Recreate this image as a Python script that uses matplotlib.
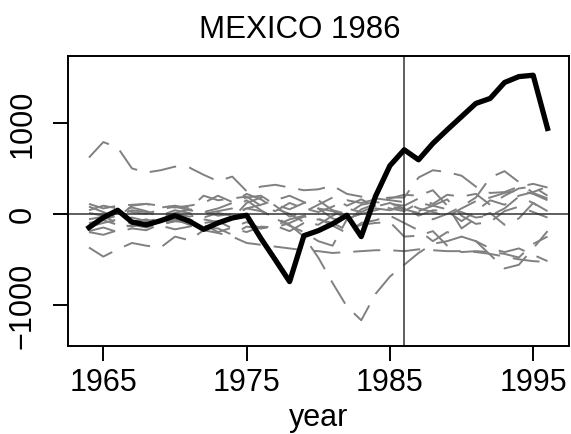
import numpy as np
import matplotlib
matplotlib.use('Agg')
import matplotlib.pyplot as plt

plt.rcParams['font.family'] = ['Liberation Sans', 'DejaVu Sans']

years = list(range(1964, 1997))

# treated unit (Mexico), gap between actual and synthetic
mexico = [-150, -40, 40, -90, -120, -75, -20, -80, -170, -100, -45, -15, -270, -505,
          -745, -240, -185, -110, -15, -250, 195, 530, 705, 595, 775, 925, 1070, 1215,
          1270, 1445, 1510, 1525, 940]

# placebo gaps (other countries)
placebo_1 = [620, 790, 730, 500, 455, 480, 520, 510, 430, 360, 410, 250, 300, 320, 290, 260,
             270, 310, 220, 190, 170, 150, 130, 60, 20, -30, 60, 140, 180, 230, 260, 220, 150]
placebo_2 = [-370, -470, -390, -320, -350, -370, -250, -290, -180, -210, -250, -320, -340, -360,
             -380, -400, -410, -430, -420, -410, -400, -400, -410, -390, -400, -410, -410, -420,
             -440, -470, -500, -520, -530]
placebo_3 = [-120, -60, -20, 40, 20, -30, 10, 50, 30, -20, 0, 60, 30, -40, -120, -250, -480,
             -760, -1020, -1170, -880, -690, -560, -430, -330, -300, -250, -300, -450, -600,
             -560, -380, -190]
placebo_4 = [80, 20, -40, 90, 110, 70, 90, 60, 200, 150, 170, 190, 90, 30, 120, 60, 20, 80, 150,
             120, 160, 180, 180, 400, 480, 460, 420, 300, 230, 240, 300, 330, 290]
placebo_5 = [-200, -230, -180, -120, -150, -100, -60, -120, -150, -160, -230, -140, -160, -130,
             -60, -20, 60, 30, -50, 0, 40, 80, 50, 10, -60, 0, 80, 180, 400, 470, 350, 230, 170]
placebo_6 = [110, 60, 90, 100, 110, 90, 70, 90, 120, 200, 130, 180, 200, 100, 50, 120, 150, 40,
             0, 100, 130, 110, 90, 170, 110, 210, 190, 220, 100, 200, 280, 300, 200]
placebo_7 = [-60, -30, 20, 70, 30, -20, 40, 10, -60, -90, -50, 120, 180, 90, -30, 20, 100, 180,
             90, 160, 80, 120, 60, 30, 90, 50, 20, -40, -20, 60, 190, 120, 30]
placebo_8 = [-100, -70, -120, -90, -60, -120, -80, -60, -120, -200, -150, -90, -160, -130, -190,
             -100, -60, -100, -180, -120, -100, -90, -250, -240, -190, -350, -420, -410, -420,
             -440, -480, -330, -250]
placebo_9 = [40, 90, 60, 20, 0, 50, 80, 40, 20, 60, 120, 220, 160, 60, 0, -90, -120, -20, 60, 20,
             90, 170, 210, 200, 260, 90, -160, -50, 10, -120, -50, 120, 20]
placebo_10 = [-140, -100, -60, -40, -80, -50, 0, -30, 0, 30, 60, 150, 40, -50, -130, -200, -300,
              -350, -60, 10, 60, 40, 80, -20, 40, 30, -80, 30, 150, 100, 200, 240, 300]
placebo_11 = [10, -20, -110, -140, -100, -130, -170, -140, -100, -80, -160, -200, -140, -150,
              -100, -30, -50, -130, -210, -100, -70, -20, -100, -180, -300, -200, -250, -300,
              -380, -420, -380, -450, -520]
placebo_12 = [-190, -150, -200, -160, -180, -110, -80, -100, -40, 10, -20, 60, 100, 150, 200, 130,
              60, -50, -90, 50, 110, 60, 30, 120, 90, 160, -20, -110, -90, 30, 80, 20, -40]

placebos = [placebo_1, placebo_2, placebo_3, placebo_4, placebo_5, placebo_6, placebo_7,
            placebo_8, placebo_9, placebo_10, placebo_11, placebo_12]

W, H = 571, 435
fig = plt.figure(figsize=(W / 100, H / 100), dpi=100)
ax = fig.add_axes([67.5 / W, (H - 346.7) / H, (569 - 67.5) / W, (346.7 - 56.7) / H])

for p in placebos:
    ax.plot(years, p, color='0.5', lw=1.4, dashes=(13.9, 6.7))

ax.axhline(0, color='0.2', lw=1.1)
ax.axvline(1986, color='0.2', lw=1.1)
ax.plot(years, mexico, color='black', lw=3.8, solid_joinstyle='round')

ax.set_xlim(1962.5, 1997.5)
ax.set_ylim(-1450, 1740)
ax.set_xticks([1965, 1975, 1985, 1995])
ax.set_yticks([-1000, 0, 1000])

for s in ax.spines.values():
    s.set_linewidth(1.4)
ax.tick_params(axis='both', direction='out', length=10.8, width=1.4, labelsize=22)
ax.tick_params(axis='x', pad=4.3)
ax.tick_params(axis='y', pad=10.5)
for lab in ax.get_yticklabels():
    lab.set_rotation(90)
    lab.set_va('center')

ax.set_xlabel('year', fontsize=22, labelpad=4)
fig.text(300 / W, 1 - 30 / H, 'MEXICO 1986', fontsize=22.5, ha='center', va='center')

fig.savefig('out.png', dpi=100)
